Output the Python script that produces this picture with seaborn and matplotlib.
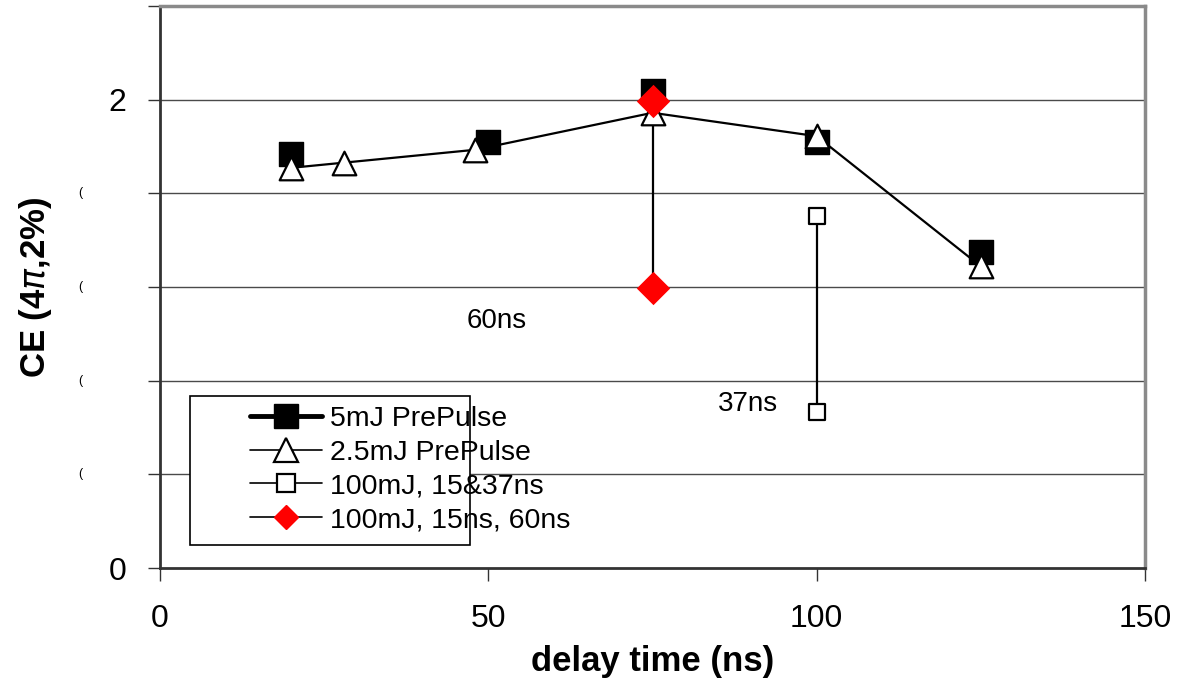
import matplotlib
matplotlib.use("Agg")
import matplotlib.pyplot as plt
import seaborn as sns
import pandas as pd
from matplotlib.lines import Line2D
from matplotlib.patches import Rectangle

# ---- data ----
x_5mj = [20, 50, 75, 100, 125]
ce_5mj = [1.767, 1.820, 2.038, 1.820, 1.350]

x_25mj = [20, 28, 48, 75, 100, 125]
ce_25mj = [1.709, 1.731, 1.786, 1.944, 1.844, 1.288]

x_100_37 = [100, 100]
ce_100_37 = [1.502, 0.667]

x_100_60 = [75, 75]
ce_100_60 = [1.993, 1.195]

labels = ["5mJ PrePulse", "2.5mJ PrePulse", "100mJ, 15&37ns", "100mJ, 15ns, 60ns"]
xticks = [0, 50, 100, 150]
yticks = [0, 0.4, 0.8, 1.2, 1.6, 2.0, 2.4]
ytick_labels = ["0", "", "", "", "", "2", ""]

sns.set_theme(style="white")
plt.rcParams["font.family"] = ["Liberation Sans", "DejaVu Sans"]
plt.rcParams["mathtext.fontset"] = "dejavusans"
for k in ["text.color", "axes.labelcolor", "xtick.color", "ytick.color"]:
    plt.rcParams[k] = "black"

fig = plt.figure(figsize=(11.79, 6.78), dpi=100)
ax = fig.add_axes([160 / 1179, 110 / 678, 985 / 1179, 562 / 678])

# gridlines
for y in yticks[1:-1]:
    ax.axhline(y, color="#4a4a4a", lw=1.0, zorder=0)

df5 = pd.DataFrame({"x": x_5mj, "y": ce_5mj})
df25 = pd.DataFrame({"x": x_25mj, "y": ce_25mj})
df37 = pd.DataFrame({"x": x_100_37, "y": ce_100_37})
df60 = pd.DataFrame({"x": x_100_60, "y": ce_100_60})

# 5mJ squares
sns.scatterplot(data=df5, x="x", y="y", marker="s", s=17 ** 2, color="black",
                edgecolor="black", linewidth=1, ax=ax, zorder=3, legend=False)
# 2.5mJ line + triangles
sns.lineplot(data=df25, x="x", y="y", color="black", lw=1.6, ax=ax, zorder=4,
             legend=False, sort=False)
sns.scatterplot(data=df25, x="x", y="y", marker="^", s=17 ** 2, color="white",
                edgecolor="black", linewidth=1.6, ax=ax, zorder=5, legend=False)
# 100mJ 15&37ns
sns.lineplot(data=df37, x="x", y="y", color="black", lw=1.6, ax=ax, zorder=4,
             legend=False, sort=False, estimator=None)
sns.scatterplot(data=df37, x="x", y="y", marker="s", s=12 ** 2, color="white",
                edgecolor="black", linewidth=1.6, ax=ax, zorder=5, legend=False)
# 100mJ 15ns 60ns
sns.lineplot(data=df60, x="x", y="y", color="black", lw=1.6, ax=ax, zorder=4,
             legend=False, sort=False, estimator=None)
sns.scatterplot(data=df60, x="x", y="y", marker="D", s=17 ** 2, color="red",
                edgecolor="red", linewidth=0, ax=ax, zorder=6, legend=False)

ax.set_xlim(0, 150)
ax.set_ylim(0, 2.4)
ax.set_xticks(xticks)
ax.set_xticklabels([str(v) for v in xticks])
ax.set_yticks(yticks)
ax.set_yticklabels(ytick_labels)
ax.tick_params(axis="both", which="major", labelsize=23, length=9, width=1,
               color="#333333", direction="out", left=True, bottom=True)
ax.tick_params(axis="x", pad=17)
ax.tick_params(axis="y", pad=15)

for y in yticks[1:5]:
    ax.text(-0.081, y, "(", transform=ax.get_yaxis_transform(), fontsize=9,
            ha="center", va="center", color="black")

for side in ["left", "bottom"]:
    ax.spines[side].set_color("#333333")
    ax.spines[side].set_linewidth(2)
for side in ["top", "right"]:
    ax.spines[side].set_color("#8a8a8a")
    ax.spines[side].set_linewidth(2.5)

ax.set_xlabel("delay time (ns)", fontsize=25, fontweight="bold")
ax.xaxis.set_label_coords(0.5, -0.137)
ax.set_ylabel("CE (4$\\pi$,2%)", fontsize=25, fontweight="bold")
ax.yaxis.set_label_coords(-0.108, 0.5)

ax.text(51.3, 1.055, "60ns", fontsize=20, ha="center", va="center")
ax.text(89.5, 0.70, "37ns", fontsize=20, ha="center", va="center")

# legend box (text overflows the box, as in the reference)
ax.add_patch(Rectangle((30 / 985, 23 / 562), 280 / 985, 149 / 562,
                       transform=ax.transAxes, facecolor="white",
                       edgecolor="black", lw=1.2, zorder=7))
handles = [
    Line2D([], [], color="black", lw=3.5, marker="s", markersize=17,
           markerfacecolor="black", markeredgecolor="black"),
    Line2D([], [], color="black", lw=1.2, marker="^", markersize=17,
           markerfacecolor="white", markeredgecolor="black", markeredgewidth=1.6),
    Line2D([], [], color="black", lw=1.2, marker="s", markersize=13,
           markerfacecolor="white", markeredgecolor="black", markeredgewidth=1.6),
    Line2D([], [], color="black", lw=1.2, marker="D", markersize=12,
           markerfacecolor="red", markeredgecolor="red"),
]
leg = ax.legend(handles, labels, loc="upper left",
                bbox_to_anchor=(90 / 985, 1 - 400 / 562), frameon=False,
                fontsize=20.5, handlelength=2.53, handletextpad=0.28,
                labelspacing=0.27, borderpad=0, borderaxespad=0)
leg.set_zorder(8)

fig.savefig("out.png", dpi=100)
